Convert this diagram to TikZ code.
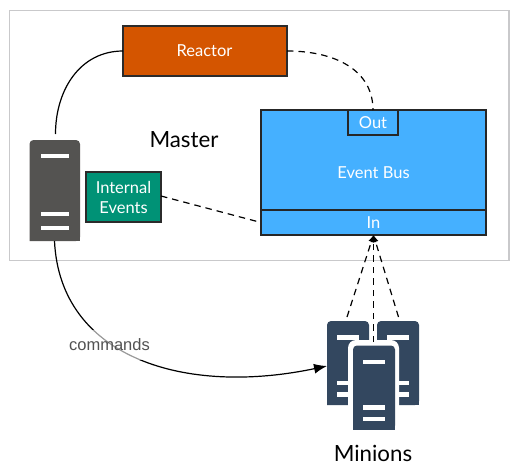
\documentclass[tikz,border=0pt]{standalone}
\usepackage{fontspec}
\setmainfont{Lato}[]
\newfontfamily\labelfont{Liberation Sans}
\usetikzlibrary{arrows.meta}
\definecolor{framegray}{HTML}{C9C9CB}
\definecolor{reactororange}{HTML}{D45500}
\definecolor{busblue}{HTML}{45B0FF}
\definecolor{eventgreen}{HTML}{009276}
\definecolor{servergray}{HTML}{545351}
\definecolor{minionblue}{HTML}{33475F}
\definecolor{boxedge}{HTML}{2B2B2B}
\tikzset{
  box/.style={draw=boxedge,line width=1.8pt,inner sep=0pt,outer sep=0pt,text=white,font=\fontsize{16.5}{20}\selectfont,align=center,anchor=north west},
  busbox/.style={box,fill=busblue,draw=black!85},
  bigtext/.style={font=\fontsize{22.3}{26}\selectfont,text=black},
  conn/.style={black,line width=1.2pt},
  dashconn/.style={conn,dash pattern=on 6.5pt off 5pt},
  head/.style={-{Latex[length=13pt,width=10pt]}},
  smallhead/.style={-{Latex[length=7pt,width=6pt]}},
  serverbar/.style={fill=white,draw=none}
}
\newcommand{\servershape}[3]{% x, y, colour
  \fill[#3,rounded corners=4pt] (#1,#2+84) -- (#1,#2) -- (#1+42,#2) -- (#1+42,#2+84) [sharp corners] -- cycle;
  \fill[#3] (#1,#2+78) rectangle (#1+42,#2+84);
  \fill[serverbar] (#1+10,#2+14) rectangle (#1+32,#2+18.5);
  \fill[serverbar] (#1+10,#2+59.5) rectangle (#1+32,#2+64);
  \fill[serverbar] (#1+10,#2+71) rectangle (#1+32,#2+75.5);
}
\begin{document}
\begin{tikzpicture}[x=1pt,y=-1pt]
\useasboundingbox (0,0) rectangle (519,474);
\draw[framegray,line width=1.5pt] (9.5,10.5) rectangle (509,260.5);

\node[box,fill=reactororange,minimum width=164pt,minimum height=50pt] (reactor) at (123,26) {\raisebox{-1pt}{\kern-1pt Reactor}};
\node[busbox,minimum width=225pt,minimum height=125pt] (bus) at (261,110) {};
\node[text=white,font=\fontsize{16.5}{20}\selectfont] (buslabel) at (373.5,173) {Event Bus};
\node[busbox,minimum width=50pt,minimum height=25pt] (out) at (348,110) {Out};
\node[busbox,minimum width=225pt,minimum height=25pt] (in) at (261,210) {In};
\node[box,fill=eventgreen,minimum width=75pt,minimum height=50pt] (events) at (86,172) {Internal\\Events};
\node[bigtext] (master) at (184,140) {Master};

% master server
\fill[servergray,rounded corners=4pt] (29.5,241) -- (29.5,140) -- (80,140) -- (80,241) [sharp corners] -- cycle;
\fill[servergray] (29.5,235) rectangle (80,241);
\fill[serverbar] (40.5,154) rectangle (69,158);
\fill[serverbar] (40.5,212) rectangle (69,216);
\fill[serverbar] (40.5,225.5) rectangle (69,229.5);
\coordinate (mtop) at (55.5,134);
\coordinate (mbottom) at (54.5,241);

% minions
\servershape{327}{321}{minionblue}
\servershape{377}{321}{minionblue}
\fill[white,rounded corners=8pt] (348,436) -- (348,340) -- (399,340) -- (399,436) [sharp corners] -- cycle;
\servershape{353}{345.5}{minionblue}
\node[bigtext] (minions) at (373,453) {Minions};

\coordinate (mleft) at (347,317);
\coordinate (mmid) at (373.5,342);
\coordinate (mright) at (398.5,317);
\coordinate (mnode) at (327,366);

\draw[conn] (mtop) .. controls (55.5,90) and (80,51) .. (reactor.west);
\draw[dashconn] (reactor.east) .. controls (335,51) and (373,70) .. (out.north);
\draw[dashconn] (events.east) ++(0,-1) -- (in.west);
\draw[conn,head] (mbottom) .. controls (60,358) and (185,396) .. (mnode);
\draw[dashconn,smallhead] (mleft) -- (in.south);
\draw[dashconn,smallhead] (mmid) -- (in.south);
\draw[dashconn,smallhead] (mright) -- (in.south);

\node[fill=white,fill opacity=0.6,text opacity=1,text=black!68,inner sep=0pt,minimum height=30pt,font=\labelfont\fontsize{16.5}{19}\selectfont] (commands) at (109.5,345) {commands};
\end{tikzpicture}
\end{document}
